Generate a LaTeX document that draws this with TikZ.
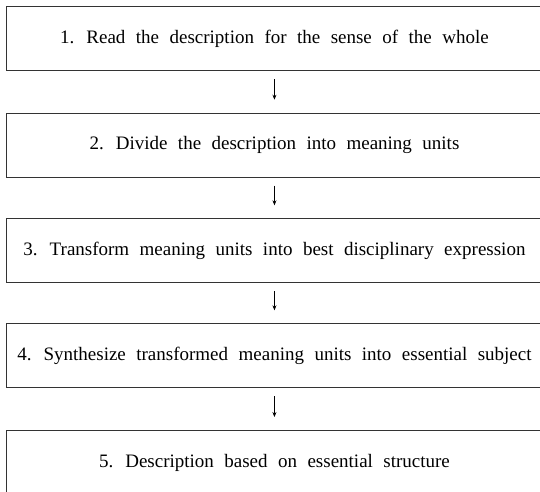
\documentclass[tikz,border=0pt]{standalone}
\usepackage{fontspec}
\setmainfont{Liberation Serif}
\usetikzlibrary{arrows.meta,positioning}
\newcommand{\widesp}{\fontsize{19}{22}\selectfont\spaceskip=0.55em plus 0.1em\relax}
\tikzset{
  stepbox/.style={draw=black!80, line width=0.9pt, minimum width=536pt, minimum height=64pt,
    inner sep=0pt, anchor=north west},
  flowarrow/.style={draw=black, line width=0.7pt, -{Stealth[length=5pt,width=4pt]}}
}
\begin{document}
\begin{tikzpicture}[x=1pt,y=1pt]
\clip (0,0) rectangle (540,491);
\fill[white] (0,0) rectangle (540,491);
\node[stepbox] (b1) at (6,484.5) {\widesp 1. Read the description for the sense of the whole};
\node[stepbox] (b2) at (6,378.3) {\widesp 2. Divide the description into meaning units};
\node[stepbox] (b3) at (6,272.7) {\widesp 3. Transform meaning units into best disciplinary expression};
\node[stepbox] (b4) at (6,167.7) {\widesp 4. Synthesize transformed meaning units into essential subject};
\node[stepbox] (b5) at (6,61) {\widesp 5. Description based on essential structure};
\draw[flowarrow] ([yshift=-8pt]b1.south) -- ([yshift=13pt]b2.north);
\draw[flowarrow] ([yshift=-8pt]b2.south) -- ([yshift=13pt]b3.north);
\draw[flowarrow] ([yshift=-8pt]b3.south) -- ([yshift=13pt]b4.north);
\draw[flowarrow] ([yshift=-8pt]b4.south) -- ([yshift=13pt]b5.north);
\end{tikzpicture}
\end{document}
